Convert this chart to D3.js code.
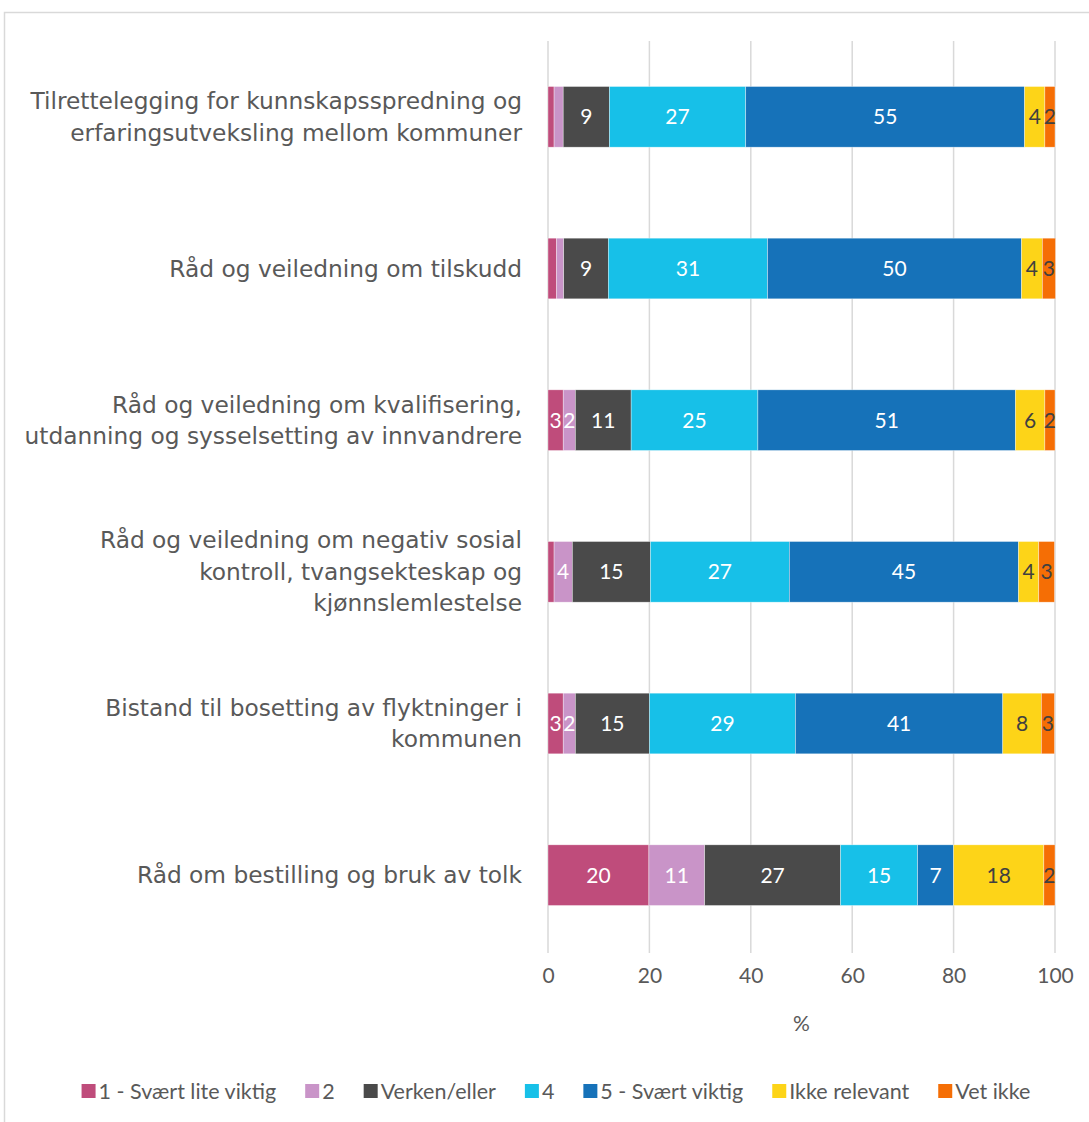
<!DOCTYPE html>
<html>
<head>
<meta charset="utf-8">
<script src="https://cdn.jsdelivr.net/npm/d3@7"></script>
<style>
  body { margin: 0; background: #fff; }
</style>
</head>
<body>
<div id="chart"></div>
<script>
// categories, with line breaks as they wrap in the chart
const categories = [
  "Tilrettelegging for kunnskapsspredning og|erfaringsutveksling mellom kommuner",
  "Råd og veiledning om tilskudd",
  "Råd og veiledning om kvalifisering,|utdanning og sysselsetting av innvandrere",
  "Råd og veiledning om negativ sosial|kontroll, tvangsekteskap og|kjønnslemlestelse",
  "Bistand til bosetting av flyktninger i|kommunen",
  "Råd om bestilling og bruk av tolk"
];

const seriesNames = ["1 - Svært lite viktig", "2", "Verken/eller", "4", "5 - Svært viktig", "Ikke relevant", "Vet ikke"];
const seriesColors = ["#bf4c7b", "#c994c8", "#4a4a4a", "#17c0e8", "#1672b9", "#fdd418", "#f56e05"];
const labelColors = ["#fff", "#fff", "#fff", "#fff", "#fff", "#404040", "#404040"];

// one array per series, in category order (percent)
const s1 = [1.2, 1.7, 3.0, 1.2, 3.0, 19.9];
const s2 = [1.8, 1.4, 2.4, 3.6, 2.4, 11.0];
const s3 = [9.1, 8.8, 11.0, 15.4, 14.6, 26.8];
const s4 = [26.9, 31.4, 25.0, 27.4, 28.8, 15.2];
const s5 = [55.0, 50.1, 50.8, 45.2, 40.9, 7.1];
const s6 = [4.0, 4.1, 5.8, 4.0, 7.6, 17.8];
const s7 = [2.0, 2.6, 2.0, 3.1, 2.6, 2.2];
const seriesValues = [s1, s2, s3, s4, s5, s6, s7];

const xTicks = [0, 20, 40, 60, 80, 100];

const W = 1089, H = 1122;
const svg = d3.select("#chart").append("svg")
  .attr("width", W).attr("height", H);

// outer chart frame
svg.append("rect")
  .attr("x", 4.5).attr("y", 12.5)
  .attr("width", 1200).attr("height", 1200)
  .attr("fill", "#fff").attr("stroke", "#d9d9d9").attr("stroke-width", 1.5);

const x = d3.scaleLinear().domain([0, 100]).range([548, 1055]);
const y = d3.scaleBand().domain(d3.range(categories.length))
  .range([41, 951]).paddingInner(0.6).paddingOuter(0.3);

// gridlines
svg.append("g").selectAll("line").data(xTicks).join("line")
  .attr("x1", d => x(d)).attr("x2", d => x(d))
  .attr("y1", 41).attr("y2", 953)
  .attr("stroke", "#d9d9d9").attr("stroke-width", 1.5);

// stack
const rows = categories.map((c, i) => {
  const r = {i: i};
  seriesNames.forEach((s, k) => r[s] = seriesValues[k][i]);
  return r;
});
const stacked = d3.stack().keys(seriesNames)(rows);

const layers = svg.append("g").selectAll("g").data(stacked).join("g")
  .attr("fill", (d, k) => seriesColors[k]);

layers.selectAll("rect").data(d => d).join("rect")
  .attr("x", d => x(d[0]))
  .attr("width", d => x(d[1]) - x(d[0]))
  .attr("y", d => y(d.data.i))
  .attr("height", y.bandwidth())
  .attr("stroke", "#fff").attr("stroke-width", 0.6).attr("stroke-opacity", 0.6);

// data labels
layers.each(function(layer, k) {
  d3.select(this).selectAll("text").data(layer.filter(d => d[1] - d[0] >= 2)).join("text")
    .attr("x", d => (x(d[0]) + x(d[1])) / 2)
    .attr("y", d => y(d.data.i) + y.bandwidth() / 2)
    .attr("dy", "0.35em")
    .attr("text-anchor", "middle")
    .attr("font-family", "Lato, sans-serif")
    .attr("font-size", 21)
    .attr("fill", labelColors[k])
    .text(d => Math.round(d.data[seriesNames[k]]));
});

// category labels
const catG = svg.append("g");
categories.forEach((c, i) => {
  const lines = c.split("|");
  const lh = 31.5;
  const cy = y(i) + y.bandwidth() / 2;
  const t = catG.append("text")
    .attr("text-anchor", "end")
    .attr("font-family", "'DejaVu Sans', Verdana, sans-serif")
    .attr("font-size", 23.3)
    .attr("fill", "#595959");
  lines.forEach((l, j) => {
    t.append("tspan")
      .attr("x", 522)
      .attr("y", cy + (j - (lines.length - 1) / 2) * lh)
      .attr("dy", "0.35em")
      .text(l);
  });
});

// x axis
const xAxis = svg.append("g").attr("transform", "translate(0,968)")
  .call(d3.axisBottom(x).tickValues(xTicks).tickSize(0).tickPadding(0));
xAxis.select(".domain").remove();
xAxis.selectAll("text")
  .attr("font-family", "Lato, sans-serif")
  .attr("font-size", 21)
  .attr("fill", "#595959")
  .attr("dy", "0.71em");

svg.append("text")
  .attr("x", (x(0) + x(100)) / 2).attr("y", 1024)
  .attr("dy", "0.35em")
  .attr("text-anchor", "middle")
  .attr("font-family", "Lato, sans-serif")
  .attr("font-size", 21)
  .attr("fill", "#595959")
  .text("%");

// legend
const legend = svg.append("g");
const gap = 29;
let lx = 0;
seriesNames.forEach((s, k) => {
  const g = legend.append("g").attr("transform", `translate(${lx},0)`);
  g.append("rect").attr("x", 0).attr("y", -7).attr("width", 14).attr("height", 14)
    .attr("fill", seriesColors[k]);
  const t = g.append("text").attr("x", 17).attr("dy", "0.35em")
    .attr("font-family", "Lato, sans-serif")
    .attr("font-size", 21.5)
    .attr("fill", "#595959")
    .text(s);
  lx += 17 + t.node().getComputedTextLength() + gap;
});
const legW = lx - gap;
legend.attr("transform", `translate(${556 - legW / 2},1091)`);
</script>
</body>
</html>
